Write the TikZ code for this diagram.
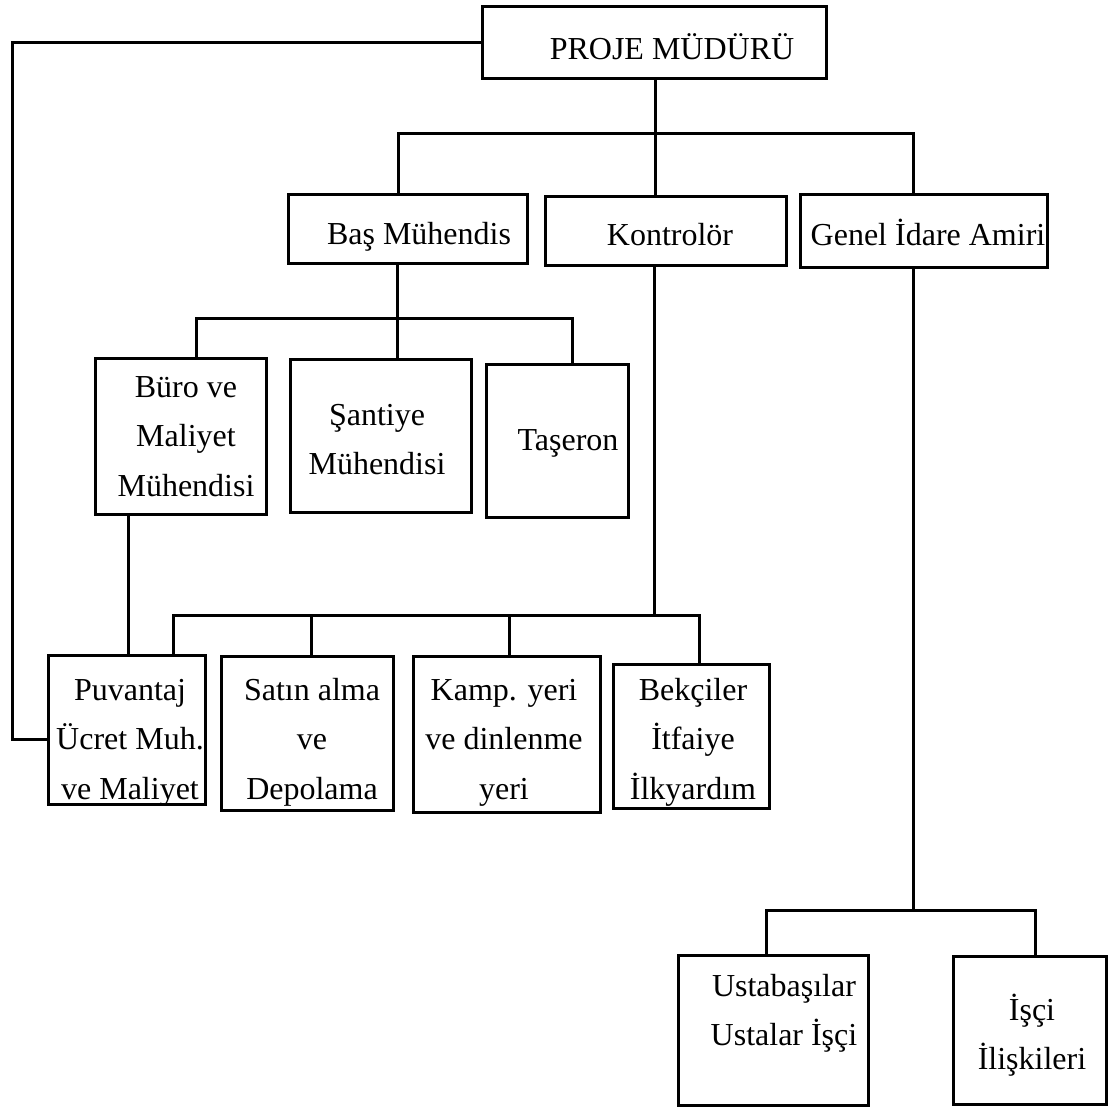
\documentclass[tikz,border=0pt]{standalone}
\usepackage{fontspec}
\setmainfont{Liberation Serif}
% centred block of lines whose baseline is the first line's baseline
\newcommand{\blocklines}[1]{\parbox[t]{240pt}{\centering #1}}
\begin{document}
\begin{tikzpicture}[x=1pt,y=-1pt,
  box/.style={draw, line width=3pt, inner sep=0pt, outer sep=0pt},
  txt/.style={anchor=base, inner sep=0pt, font=\fontsize{32}{49.5}\selectfont},
  conn/.style={line width=3pt}]
\useasboundingbox (0,0) rectangle (1108,1109);

% boxes: top level
\node[box, minimum width=344, minimum height=72] (proje) at (654,42) {};
% second level
\node[box, minimum width=239, minimum height=69] (bas) at (407.5,228.5) {};
\node[box, minimum width=241, minimum height=69] (kon) at (665.5,230.5) {};
\node[box, minimum width=247, minimum height=73] (genel) at (923.5,230.5) {};
% third level
\node[box, minimum width=171, minimum height=156] (buro) at (180.5,436) {};
\node[box, minimum width=181, minimum height=153] (santiye) at (380.5,435.5) {};
\node[box, minimum width=142, minimum height=153] (taseron) at (557,440.5) {};
% fourth level
\node[box, minimum width=157, minimum height=149] (puv) at (126.5,729.5) {};
\node[box, minimum width=172, minimum height=154] (satin) at (307,733) {};
\node[box, minimum width=187, minimum height=156] (kamp) at (506.5,734) {};
\node[box, minimum width=156, minimum height=144] (bekci) at (691,736) {};
% bottom level
\node[box, minimum width=190, minimum height=150] (usta) at (773,1030) {};
\node[box, minimum width=153, minimum height=148] (isci) at (1029.5,1030) {};

% box texts
\node[txt] (proje-t) at (672,59) {PROJE MÜDÜRÜ};
\node[txt] (bas-t) at (419,244) {Baş Mühendis};
\node[txt] (kon-t) at (670,245) {Kontrolör};
\node[txt] (genel-t) at (928,245) {Genel İdare Amiri};
\node[txt] (buro-t) at (186,397) {\blocklines{Büro ve\\Maliyet\\Mühendisi}};
\node[txt] (santiye-t) at (377,425) {\blocklines{Şantiye\\Mühendisi}};
\node[txt] (taseron-t) at (568,450) {Taşeron};
\node[txt] (puv-t) at (130,700) {\blocklines{Puvantaj\\Ücret Muh.\\ve Maliyet}};
\node[txt] (satin-t) at (312,700) {\blocklines{Satın alma\\ve\\Depolama}};
\node[txt] (kamp-t) at (504,700) {\blocklines{Kamp. yeri\\ve dinlenme\\yeri}};
\node[txt] (bekci-t) at (693,700) {\blocklines{Bekçiler\\İtfaiye\\İlkyardım}};
\node[txt] (usta-t) at (784,996) {\blocklines{Ustabaşılar\\Ustalar İşçi}};
\node[txt] (isci-t) at (1032,1020) {\blocklines{İşçi\\İlişkileri}};

% Proje Müdürü -> Puvantaj (outer loop on the left)
\coordinate (lft) at (12,400);
\draw[conn] (proje.west) -| (lft) |- ([yshift=-10pt]puv.west);

% Proje Müdürü -> second level
\coordinate (b1) at (655,133);
\draw[conn] (proje.south -| b1) -- (b1);
\draw[conn] (bas.north -| 398,0) |- (b1) -| (genel.north -| 913,0);
\draw[conn] (b1) -- (kon.north -| b1);

% Baş Mühendis -> third level
\coordinate (b2) at (397,318);
\draw[conn] (bas.south -| b2) -- (b2);
\draw[conn] (buro.north -| 196,0) |- (b2) -| (taseron.north -| 572,0);
\draw[conn] (b2) -- (santiye.north -| b2);

% Büro ve Maliyet Mühendisi -> Puvantaj
\draw[conn] (buro.south -| 128,0) -- (puv.north -| 128,0);

% Kontrolör -> fourth level
\coordinate (b3) at (654,615);
\draw[conn] (kon.south -| b3) -- (b3);
\draw[conn] (puv.north -| 173,0) |- (b3) -| (bekci.north -| 699,0);
\draw[conn] (satin.north -| 311,0) -- (b3 -| 311,0);
\draw[conn] (kamp.north -| 509,0) -- (b3 -| 509,0);

% Genel İdare Amiri -> bottom level
\coordinate (b4) at (913,910);
\draw[conn] (genel.south -| b4) -- (b4);
\draw[conn] (usta.north -| 766,0) |- (b4) -| (isci.north -| 1035,0);
\end{tikzpicture}
\end{document}
